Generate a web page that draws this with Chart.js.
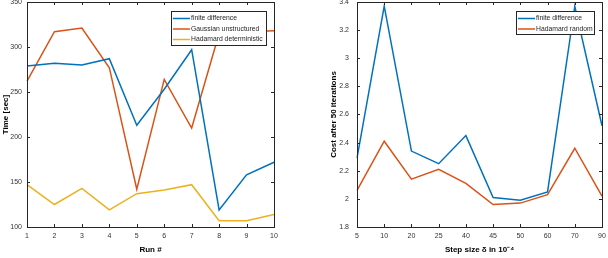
<!DOCTYPE html>
<html>
<head>
<meta charset="utf-8">
<script src="https://cdn.jsdelivr.net/npm/chart.js@4"></script>
<style>
  body { margin: 0; background: #fff; }
  #wrap { position: relative; width: 608px; height: 258px; }
  #c1 { position: absolute; left: 0; top: 0; }
  #c2 { position: absolute; left: 300px; top: 0; }
</style>
</head>
<body>
<div id="wrap">
  <canvas id="c1" width="290" height="258"></canvas>
  <canvas id="c2" width="308" height="258"></canvas>
</div>
<script>
// left panel: run time per run
const runs = ['1', '2', '3', '4', '5', '6', '7', '8', '9', '10'];
const finiteTime = [279, 282, 280, 287, 213, 253, 297, 119, 158, 172];
const gaussTime = [262, 317, 321, 277, 142, 264, 210, 315, 317, 318];
const hadamardTime = [147, 125, 143, 119, 137, 141, 147, 107, 107, 114];

// right panel: cost vs step size
const steps = ['5', '10', '20', '25', '40', '45', '50', '60', '70', '90'];
const finiteCost = [2.29, 3.37, 2.34, 2.25, 2.45, 2.01, 1.99, 2.05, 3.37, 2.52];
const hadamardCost = [2.06, 2.41, 2.14, 2.21, 2.11, 1.96, 1.97, 2.03, 2.36, 2.02];

const blue = '#0072BD', orange = '#D95319', yellow = '#EDB120';
const font = 'Liberation Sans, Arial, sans-serif';

Chart.defaults.font.family = font;
Chart.defaults.color = '#333';

// MATLAB-like box with inward ticks
const frame = {
    id: 'frame',
    afterDraw(chart) {
        const ctx = chart.ctx, a = chart.chartArea;
        const x = chart.scales.x, y = chart.scales.y;
        ctx.save();
        ctx.strokeStyle = '#262626';
        ctx.lineWidth = 1;
        ctx.strokeRect(Math.round(a.left) + 0.5, Math.round(a.top) + 0.5,
            Math.round(a.right - a.left), Math.round(a.bottom - a.top));
        ctx.beginPath();
        x.ticks.forEach((t, i) => {
            const px = Math.round(x.getPixelForTick(i)) + 0.5;
            ctx.moveTo(px, a.bottom); ctx.lineTo(px, a.bottom - 3);
            ctx.moveTo(px, a.top); ctx.lineTo(px, a.top + 3);
        });
        y.ticks.forEach((t, i) => {
            const py = Math.round(y.getPixelForTick(i)) + 0.5;
            ctx.moveTo(a.left, py); ctx.lineTo(a.left + 3, py);
            ctx.moveTo(a.right, py); ctx.lineTo(a.right - 3, py);
        });
        ctx.stroke();
        ctx.restore();
    }
};

// legend box inside the plot
const boxLegend = {
    id: 'boxLegend',
    afterDatasetsDraw(chart, args, opts) {
        const ctx = chart.ctx;
        ctx.save();
        ctx.fillStyle = '#fff';
        ctx.fillRect(opts.x, opts.y, opts.w, opts.h);
        ctx.strokeStyle = '#262626';
        ctx.lineWidth = 1;
        ctx.strokeRect(opts.x + 0.5, opts.y + 0.5, opts.w, opts.h);
        ctx.font = '6.8px ' + font;
        ctx.textBaseline = 'middle';
        chart.data.datasets.forEach((ds, i) => {
            const ry = opts.y + 7.5 + i * opts.row;
            ctx.strokeStyle = ds.borderColor;
            ctx.lineWidth = ds.borderWidth;
            ctx.beginPath();
            ctx.moveTo(opts.x + 2, ry); ctx.lineTo(opts.x + 19, ry);
            ctx.stroke();
            ctx.fillStyle = '#262626';
            ctx.fillText(ds.label, opts.x + 20, ry);
        });
        ctx.restore();
    }
};

function line(label, data, color) {
    return { label: label, data: data, borderColor: color, backgroundColor: color,
        borderWidth: 1.5, pointRadius: 0, tension: 0 };
}

function axes(ymin, ymax, step, ytitle, xtitle, yWidth, yPad) {
    return {
        x: {
            offset: false,
            grid: { display: false, drawTicks: false },
            border: { display: false },
            ticks: { padding: 5, font: { size: 7 }, maxRotation: 0, autoSkip: false },
            title: { display: true, text: xtitle, color: '#000',
                font: { size: 8, weight: 'bold' }, padding: { top: 0, bottom: 3 } },
            afterFit(s) { s.height = 31; s.paddingLeft = 0; s.paddingRight = 0; }
        },
        y: {
            min: ymin, max: ymax,
            grid: { display: false, drawTicks: false },
            border: { display: false },
            ticks: { stepSize: step, padding: yPad, font: { size: 7 },
                callback: v => String(+v.toFixed(2)) },
            title: { display: true, text: ytitle, color: '#000',
                font: { size: 8, weight: 'bold' }, padding: { top: 1, bottom: 0 } },
            afterFit(s) { s.width = yWidth; s.paddingTop = 0; s.paddingBottom = 0; }
        }
    };
}

new Chart(document.getElementById('c1'), {
    type: 'line',
    data: {
        labels: runs,
        datasets: [
            line('finite difference', finiteTime, blue),
            line('Gaussian unstructured', gaussTime, orange),
            line('Hadamard deterministic', hadamardTime, yellow)
        ]
    },
    options: {
        responsive: false,
        animation: false,
        layout: { padding: { left: 0, right: 16, top: 2, bottom: 0 } },
        scales: axes(100, 350, 50, 'Time [sec]', 'Run #', 27, 5),
        plugins: {
            legend: { display: false },
            tooltip: { enabled: false },
            boxLegend: { x: 171, y: 11, w: 95, h: 34, row: 10.5 }
        }
    },
    plugins: [boxLegend, frame]
});

new Chart(document.getElementById('c2'), {
    type: 'line',
    data: {
        labels: steps,
        datasets: [
            line('finite difference', finiteCost, blue),
            line('Hadamard random', hadamardCost, orange)
        ]
    },
    options: {
        responsive: false,
        animation: false,
        layout: { padding: { left: 28, right: 6, top: 2, bottom: 0 } },
        scales: axes(1.8, 3.4, 0.2, 'Cost after 50 iterations', 'Step size \u03B4 in 10\u207B\u2074', 29, 8),
        plugins: {
            legend: { display: false },
            tooltip: { enabled: false },
            boxLegend: { x: 216, y: 11, w: 78, h: 23, row: 10.5 }
        }
    },
    plugins: [boxLegend, frame]
});
</script>
</body>
</html>
